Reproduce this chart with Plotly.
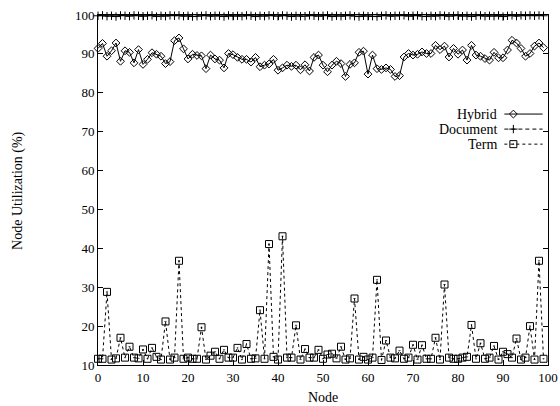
import plotly.graph_objects as go

nodes = list(range(100))

hybrid = [91.4, 92.7, 89.4, 90.8, 92.8, 88.1, 90.8, 90.4, 87.7, 91.1,
          87.3, 88.6, 90.3, 89.9, 89.4, 87.5, 88.0, 93.4, 94.1, 91.3,
          88.7, 89.9, 89.6, 89.5, 86.2, 89.7, 88.7, 88.4, 86.4, 90.1,
          89.8, 89.1, 88.6, 88.6, 87.9, 89.1, 86.7, 87.1, 87.4, 88.6,
          85.8, 86.4, 87.1, 86.8, 87.1, 85.9, 87.2, 85.6, 89.1, 89.7,
          87.1, 85.4, 87.1, 88.1, 87.5, 84.2, 87.3, 87.7, 90.4, 90.7,
          84.8, 89.7, 86.2, 86.0, 86.4, 86.0, 84.2, 84.4, 89.2, 90.1,
          89.7, 89.9, 90.5, 90.1, 90.1, 92.2, 91.1, 92.0, 89.2, 91.4,
          89.9, 91.0, 88.4, 92.2, 89.7, 89.4, 88.8, 88.4, 90.4, 89.0,
          89.0, 91.0, 93.5, 92.8, 91.4, 89.4, 90.1, 92.0, 92.8, 91.6]

document = [99.8, 99.9, 99.7, 99.8, 99.6, 99.9, 99.8, 99.7, 99.9, 99.8,
            99.7, 99.8, 99.9, 99.6, 99.8, 99.7, 99.9, 99.8, 99.9, 99.7,
            99.8, 99.6, 99.7, 99.8, 99.9, 99.7, 99.8, 99.8, 99.6, 99.9,
            99.7, 99.8, 99.7, 99.9, 99.8, 99.6, 99.8, 99.7, 99.9, 99.8,
            99.7, 99.9, 99.8, 99.6, 99.8, 99.7, 99.7, 99.9, 99.8, 99.7,
            99.8, 99.9, 99.6, 99.8, 99.7, 99.8, 99.9, 99.7, 99.6, 99.8,
            99.7, 99.7, 99.6, 99.8, 99.9, 99.7, 99.8, 99.8, 99.9, 99.7,
            99.8, 99.9, 99.7, 99.6, 99.8, 99.7, 99.9, 99.8, 99.7, 99.8,
            99.9, 99.7, 99.8, 99.6, 99.8, 99.9, 99.7, 99.8, 99.7, 99.9,
            99.6, 99.8, 99.9, 99.7, 99.9, 99.8, 99.9, 99.8, 99.9, 99.8]

term = [11.6, 11.6, 28.8, 11.4, 11.7, 17.0, 11.9, 14.7, 11.9, 11.7,
        14.0, 11.6, 14.4, 12.1, 11.4, 21.2, 11.4, 11.9, 36.8, 11.6,
        11.9, 11.6, 11.6, 19.7, 11.4, 12.4, 13.4, 11.6, 13.9, 11.9,
        11.9, 14.4, 11.4, 15.4, 11.6, 11.7, 24.1, 11.6, 41.1, 12.1,
        11.4, 43.1, 11.9, 11.9, 20.2, 11.4, 14.1, 11.9, 11.9, 13.9,
        11.6, 12.7, 12.9, 11.7, 14.7, 11.4, 11.7, 27.1, 11.4, 12.1,
        11.4, 11.9, 31.9, 11.3, 16.3, 11.9, 11.7, 13.7, 11.6, 11.9,
        15.2, 11.4, 15.1, 11.6, 11.6, 17.0, 11.4, 30.7, 11.9, 11.6,
        11.6, 11.9, 12.1, 20.3, 11.6, 15.6, 11.6, 11.9, 14.9, 11.4,
        13.4, 12.8, 11.9, 16.8, 11.4, 11.9, 20.0, 11.4, 36.8, 11.6]

series_names = ["Hybrid", "Document", "Term"]
x_ticks = list(range(0, 101, 10))
y_ticks = list(range(10, 101, 10))

FONT = "Liberation Serif"
BLACK = "#000000"

styles = {
    "Hybrid": dict(dash="solid", symbol="diamond-open", size=6),
    "Document": dict(dash="4px,3px", symbol="cross-thin-open", size=6),
    "Term": dict(dash="dot", symbol="square-open-dot", size=7),
}
values = {"Hybrid": hybrid, "Document": document, "Term": term}

fig = go.Figure()
for name in series_names:
    st = styles[name]
    fig.add_trace(go.Scatter(
        x=nodes, y=values[name], mode="lines+markers", name=name,
        line=dict(color=BLACK, width=1, dash=st["dash"]),
        marker=dict(symbol=st["symbol"], size=st["size"], color=BLACK,
                    line=dict(color=BLACK, width=1)),
        showlegend=False, cliponaxis=False,
    ))

# Manual gnuplot-style legend (text right-aligned, sample to the right)
legend_rows = [0.717, 0.674, 0.631]
sample_x0, sample_x1, marker_x, text_x = 0.903, 0.988, 0.923, 0.892
for name, ry in zip(series_names, legend_rows):
    st = styles[name]
    fig.add_trace(go.Scatter(
        x=[sample_x0, sample_x1], y=[ry, ry], mode="lines",
        line=dict(color=BLACK, width=1, dash=st["dash"]),
        xaxis="x2", yaxis="y2", showlegend=False, hoverinfo="skip"))
    fig.add_trace(go.Scatter(
        x=[marker_x], y=[ry], mode="markers",
        marker=dict(symbol=st["symbol"], size=st["size"], color=BLACK,
                    line=dict(color=BLACK, width=1)),
        xaxis="x2", yaxis="y2", showlegend=False, hoverinfo="skip"))
    fig.add_annotation(x=text_x, y=ry, xref="paper", yref="paper",
                       text=name, showarrow=False, xanchor="right",
                       yanchor="middle",
                       font=dict(family=FONT, size=14, color=BLACK))

# Axis titles
fig.add_annotation(x=0.5, y=-0.092, xref="paper", yref="paper", text="Node",
                   showarrow=False, xanchor="center", yanchor="middle",
                   font=dict(family=FONT, size=14, color=BLACK))
fig.add_annotation(x=-0.178, y=0.5, xref="paper", yref="paper",
                   text="Node Utilization (%)", textangle=-90,
                   showarrow=False, xanchor="center", yanchor="middle",
                   font=dict(family=FONT, size=14, color=BLACK))

axis_common = dict(
    showgrid=False, zeroline=False, showline=True, linecolor=BLACK,
    linewidth=1, mirror="ticks", ticks="inside", ticklen=5,
    tickcolor=BLACK, tickwidth=1, automargin=False,
    ticklabeloverflow="allow",
    tickfont=dict(family=FONT, size=13, color=BLACK),
)

fig.update_layout(
    width=560, height=406,
    margin=dict(l=98, r=12, t=15, b=41),
    paper_bgcolor="white", plot_bgcolor="white",
    xaxis=dict(range=[0, 100], tickvals=x_ticks, **axis_common),
    yaxis=dict(range=[10, 100], tickvals=y_ticks, **axis_common),
    xaxis2=dict(range=[0, 1], overlaying="x", visible=False),
    yaxis2=dict(range=[0, 1], overlaying="y", visible=False),
    showlegend=False,
    hovermode=False,
)

fig.write_html("out.html",
               config={"displayModeBar": False},
               post_script="document.body.style.margin='0';"
                           "document.body.style.overflow='hidden';")
